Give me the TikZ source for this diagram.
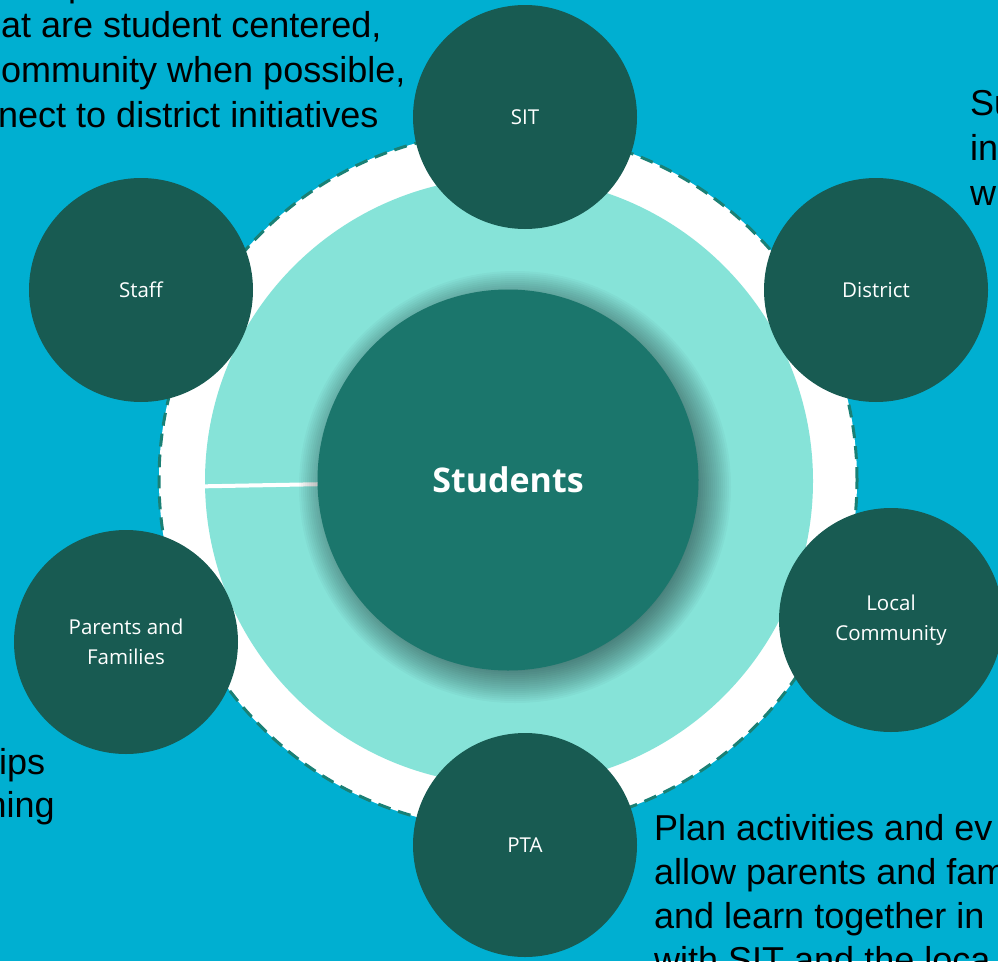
\documentclass[tikz,border=0pt]{standalone}
\usepackage{fontspec}
\setmainfont{Liberation Sans}
\newfontfamily\robfont{Open Sans}
\definecolor{bgc}{HTML}{00AFD1}
\definecolor{lteal}{HTML}{86E3D8}
\definecolor{midteal}{HTML}{1B766C}
\definecolor{darkteal}{HTML}{185B52}
\definecolor{dashc}{HTML}{1A8075}
\tikzset{
  smallc/.style={circle, fill=darkteal, minimum size=224pt, inner sep=0pt, text=white,
    align=center, font=\robfont\fontsize{20.5}{30}\selectfont},
  bodytxt/.style={anchor=base west, inner sep=0pt, text=black, font=\fontsize{36}{44}\selectfont},
  shadowstep/.style={fill=black, fill opacity=0.026}
}
\begin{document}
\begin{tikzpicture}[x=1pt,y=-1pt]
\useasboundingbox (0,0) rectangle (998,961);
\clip (0,0) rectangle (998,961);
\fill[bgc] (0,0) rectangle (998,961);
% rings
\node[circle, fill=white, draw=dashc, line width=3pt, dash pattern=on 13pt off 8pt,
  minimum size=698pt, inner sep=0pt] (ring) at (508,480) {};
\node[circle, fill=lteal, minimum size=608pt, inner sep=0pt] (inner) at (509,481) {};
\coordinate (gapend) at (330,484);
\draw[white, line width=4pt] (inner.181) -- (gapend);
% soft shadow of the centre circle
\coordinate (shc) at (515,487);
\foreach \r in {166,168,...,216} {
  \fill[shadowstep] (shc) circle[radius=\r];
}
\node[circle, fill=midteal, minimum size=381pt, inner sep=0pt,
  text=white, font=\robfont\bfseries\fontsize{34}{40}\selectfont] (students) at (508,480) {Students};
% outer circles
\node[smallc] (sit) at (525,117) {SIT};
\node[smallc] (staff) at (141,290) {Staff};
\node[smallc] (district) at (876,290) {District};
\node[smallc] (local) at (891,620) {Local\\Community};
\node[smallc] (pta) at (525,845) {PTA};
\node[smallc] (parents) at (126,642) {Parents and\\Families};
% cut-off body texts
\node[bodytxt] (tl0) at (68,-4) {p};
\node[bodytxt] (tl1) at (1,37) {at are student centered,};
\node[bodytxt] (tl2) at (1,82) {ommunity when possible,};
\node[bodytxt] (tl3) at (-2,127) {nect to district initiatives};
\node[bodytxt] (tr1) at (970,115) {Su};
\node[bodytxt] (tr2) at (970,160) {in};
\node[bodytxt] (tr3) at (970,205) {w};
\node[bodytxt] (bl1) at (-1,774) {ips};
\node[bodytxt] (bl2) at (-13.5,817) {ning};
\node[bodytxt] (br1) at (654,840) {Plan activities and ev};
\node[bodytxt] (br2) at (654,884) {allow parents and fam};
\node[bodytxt] (br3) at (654,928) {and learn together in};
\node[bodytxt] (br4) at (654,972) {with SIT and the loca};
\end{tikzpicture}
\end{document}
